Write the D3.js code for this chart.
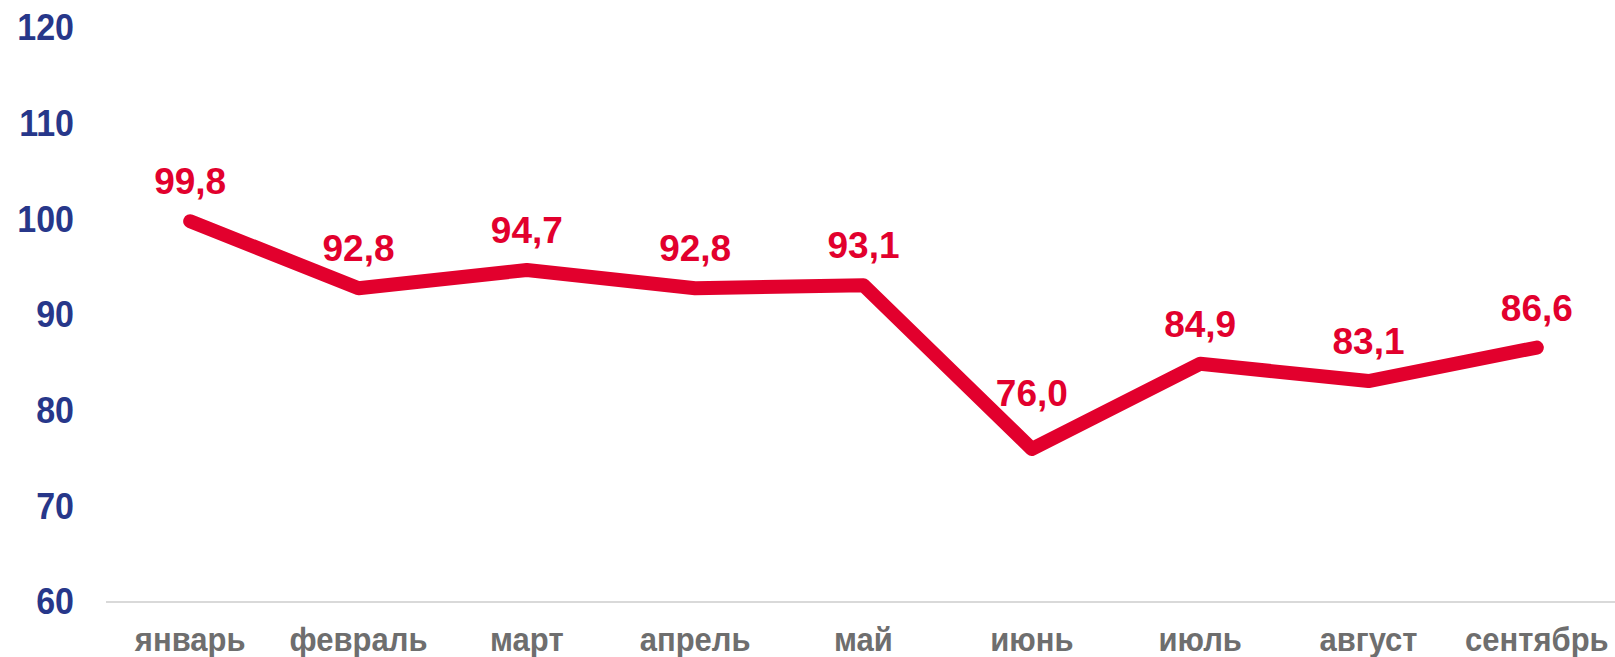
<!DOCTYPE html>
<html>
<head>
<meta charset="utf-8">
<script src="https://cdn.jsdelivr.net/npm/d3@7"></script>
<style>
  body { margin: 0; background: #fff; }
  svg { display: block; font-family: "Liberation Sans", Arial, sans-serif; }
</style>
</head>
<body>
<div id="chart"></div>
<script>
// month names and the index values
const months = ["январь", "февраль", "март", "апрель", "май", "июнь", "июль", "август", "сентябрь"];
const values = [99.8, 92.8, 94.7, 92.8, 93.1, 76.0, 84.9, 83.1, 86.6];
const yTicks = [60, 70, 80, 90, 100, 110, 120];

const width = 1615, height = 657;
const red = "#e2002d", navy = "#27378a", grey = "#6e6e6e";

const svg = d3.select("#chart")
    .append("svg")
    .attr("width", width)
    .attr("height", height);

const xScale = d3.scaleBand()
    .domain(months)
    .range([106, 1621]);

const yScale = d3.scaleLinear()
    .domain([60, 120])
    .range([602, 28]);

// y axis, labels only
const yAxis = svg.append("g")
    .attr("transform", "translate(74,0)")
    .call(d3.axisLeft(yScale).tickValues(yTicks).tickSize(0).tickPadding(0));
yAxis.select(".domain").remove();
yAxis.selectAll("text")
    .attr("fill", navy)
    .attr("font-size", "34px")
    .attr("font-weight", "bold")
    .attr("font-family", "'Liberation Sans', Arial, sans-serif")
    .attr("transform", "scale(1,1.1)");

// x axis with a light baseline
const xAxis = svg.append("g")
    .attr("transform", `translate(0,${yScale(60)})`)
    .call(d3.axisBottom(xScale).tickSize(0));
xAxis.select(".domain")
    .attr("d", `M106,0H${width}`)
    .attr("stroke", "#d9d9d9")
    .attr("stroke-width", 2);
xAxis.selectAll("text")
    .attr("fill", grey)
    .attr("font-size", "31px")
    .attr("font-weight", "bold")
    .attr("font-family", "'Liberation Sans', Arial, sans-serif")
    .attr("y", 44.5)
    .attr("dy", 0)
    .attr("transform", "scale(1,1.1)");

const data = months.map((m, i) => ({ month: m, value: values[i] }));
const cx = d => xScale(d.month) + xScale.bandwidth() / 2;

const line = d3.line()
    .x(cx)
    .y(d => yScale(d.value));

svg.append("path")
    .datum(data)
    .attr("d", line)
    .attr("fill", "none")
    .attr("stroke", red)
    .attr("stroke-width", 14)
    .attr("stroke-linecap", "round")
    .attr("stroke-linejoin", "round");

// a sharp dip (well below both neighbours) gets its label lifted clear of the V
const isDip = i => i > 0 && i < values.length - 1 &&
    values[i - 1] - values[i] > 5 && values[i + 1] - values[i] > 5;

svg.selectAll(".value-label")
    .data(data)
    .join("text")
    .attr("class", "value-label")
    .attr("x", cx)
    .attr("y", (d, i) => yScale(d.value) - (isDip(i) ? 43 : 27))
    .attr("text-anchor", "middle")
    .attr("fill", red)
    .attr("font-size", "37px")
    .attr("font-weight", "bold")
    .text(d => d3.format(".1f")(d.value).replace(".", ","));
</script>
</body>
</html>
